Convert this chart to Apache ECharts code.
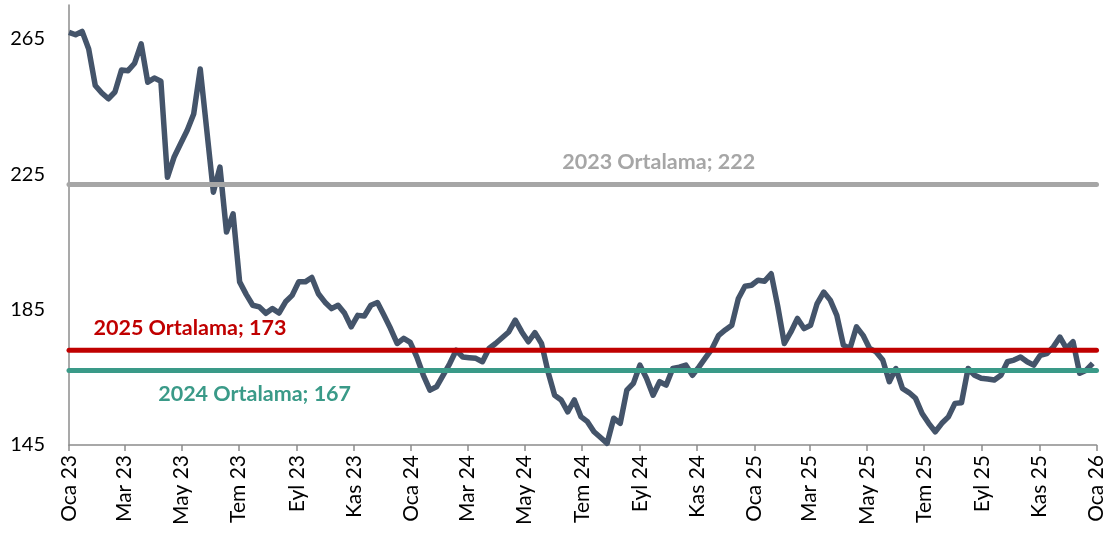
<!DOCTYPE html>
<html>
<head>
<meta charset="utf-8">
<script src="https://cdn.jsdelivr.net/npm/echarts@6/dist/echarts.min.js"></script>
<style>
  html, body { margin: 0; padding: 0; background: #fff; }
  #chart { width: 1107px; height: 536px; }
</style>
</head>
<body>
<div id="chart"></div>
<script>
// weekly series, first week starts 2023-01-01
const startDate = Date.UTC(2023, 0, 1)
const endDate = Date.UTC(2026, 0, 1)
const weekly = [
  266.9, 266.2, 267.2, 262.0, 251.2, 249.0, 247.3, 249.3, 255.8, 255.6,
  257.8, 263.5, 252.2, 253.4, 252.5, 224.1, 230.0, 234.0, 237.9, 242.8,
  256.1, 237.9, 219.7, 227.1, 207.9, 213.3, 193.2, 189.5, 186.3, 185.8,
  183.9, 185.3, 184.0, 187.3, 189.2, 193.2, 193.2, 194.5, 189.7, 187.2,
  185.3, 186.3, 183.9, 179.9, 183.3, 183.1, 186.3, 187.1, 183.3, 179.4,
  175.0, 176.5, 175.3, 171.0, 165.6, 161.2, 162.2, 165.6, 169.0, 173.0,
  171.0, 170.8, 170.6, 169.6, 173.5, 175.0, 176.7, 178.4, 181.9, 178.4,
  175.5, 178.2, 175.0, 166.6, 159.7, 158.3, 154.8, 158.3, 153.4, 151.9,
  148.9, 147.2, 145.5, 152.9, 151.4, 161.2, 163.2, 168.6, 164.7, 159.7,
  163.7, 162.7, 167.6, 168.0, 168.6, 165.6, 168.1, 170.8, 173.5, 177.4,
  179.0, 180.4, 188.3, 191.9, 192.2, 193.7, 193.4, 195.6, 186.0, 175.0,
  178.4, 182.4, 179.4, 180.4, 186.8, 190.2, 187.8, 183.3, 174.5, 173.5,
  179.9, 177.4, 173.5, 172.5, 170.1, 163.7, 167.6, 161.7, 160.5, 158.8,
  154.3, 151.4, 148.9, 151.4, 153.3, 157.3, 157.5, 167.6, 165.6, 164.7,
  164.5, 164.2, 165.6, 169.6, 170.1, 171.0, 169.6, 168.6, 171.5, 172.0,
  174.0, 176.9, 173.5, 175.5, 166.2, 167.1, 169.1
]

const avgNames = ['2023 Ortalama', '2025 Ortalama', '2024 Ortalama']
const avgValues = [222, 173, 167]
const avgColors = ['#A6A6A6', '#C00000', '#3A9A88']
// where each average label sits along the x axis, and its vertical shift
const avgLabelDates = ['2024-09-21', '2023-05-10', '2023-07-18']
const avgLabelShift = [-22, -22, 24]

const tickDates = [
  '2023-01-01', '2023-03-01', '2023-05-01', '2023-07-01', '2023-09-01', '2023-11-01',
  '2024-01-01', '2024-03-01', '2024-05-01', '2024-07-01', '2024-09-01', '2024-11-01',
  '2025-01-01', '2025-03-01', '2025-05-01', '2025-07-01', '2025-09-01', '2025-11-01',
  '2026-01-01'
]
const tickLabels = [
  'Oca 23', 'Mar 23', 'May 23', 'Tem 23', 'Eyl 23', 'Kas 23',
  'Oca 24', 'Mar 24', 'May 24', 'Tem 24', 'Eyl 24', 'Kas 24',
  'Oca 25', 'Mar 25', 'May 25', 'Tem 25', 'Eyl 25', 'Kas 25',
  'Oca 26'
]
const tickValues = tickDates.map((d) => Date.parse(d + 'T00:00:00Z'))

const DAY = 86400000
const lineData = weekly.map((v, i) => [startDate + i * 7 * DAY, v])

const chart = echarts.init(document.getElementById('chart'), null, { renderer: 'canvas' })

const avgSeries = avgValues.map((v, k) => ({
  type: 'line',
  name: avgNames[k],
  data: [[startDate, v], [endDate, v]],
  symbol: 'none',
  silent: true,
  z: 3,
  lineStyle: { color: avgColors[k], width: 5, cap: 'round' },
  markPoint: {
    symbol: 'circle',
    symbolSize: 0,
    silent: true,
    data: [{
      coord: [Date.parse(avgLabelDates[k] + 'T00:00:00Z'), v],
      label: {
        show: true,
        formatter: avgNames[k] + '; ' + v,
        color: avgColors[k],
        fontFamily: 'Lato',
        fontWeight: 'bold',
        fontSize: 21.5,
        offset: [0, avgLabelShift[k]],
      },
    }],
  },
}))

chart.setOption({
  animation: false,
  grid: { left: 69, right: 8, top: 5, bottom: 91 },
  xAxis: {
    type: 'value',
    min: startDate,
    max: endDate,
    splitLine: { show: false },
    axisLine: { lineStyle: { color: '#8c8c8c', width: 1.5 } },
    axisTick: {
      customValues: tickValues,
      length: 6,
      lineStyle: { color: '#8c8c8c', width: 1.5 },
    },
    axisLabel: {
      customValues: tickValues,
      rotate: 90,
      margin: 10,
      color: '#000',
      fontFamily: 'Lato',
      fontSize: 21,
      formatter: (v) => tickLabels[tickValues.indexOf(v)],
    },
  },
  yAxis: {
    type: 'value',
    min: 145,
    max: 275,
    interval: 40,
    splitLine: { show: false },
    axisLine: { show: true, lineStyle: { color: '#8c8c8c', width: 1.5 } },
    axisTick: { show: false },
    axisLabel: {
      showMaxLabel: false,
      margin: 24,
      color: '#000',
      fontFamily: 'Lato',
      fontSize: 20,
    },
  },
  series: [
    {
      type: 'line',
      name: 'Fiyat',
      data: lineData,
      symbol: 'none',
      z: 2,
      lineStyle: { color: '#44546A', width: 5.5, join: 'round' },
    },
    ...avgSeries,
  ],
})
</script>
</body>
</html>
